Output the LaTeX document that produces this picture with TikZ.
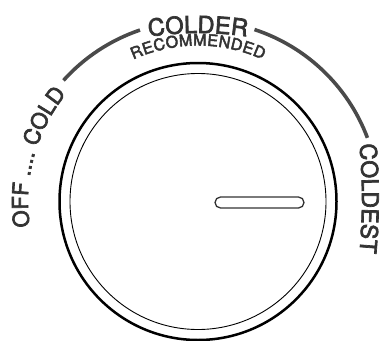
\documentclass[tikz,border=0pt]{standalone}
\usepackage{fontspec}
\setmainfont{TeX Gyre Heros}
\newfontfamily\dialfont[FakeBold=3]{TeX Gyre Heros}
\usetikzlibrary{decorations.text}
\definecolor{ink}{HTML}{333333}
\definecolor{arcgray}{HTML}{4A4A4A}
\begin{document}
\begin{tikzpicture}[x=1pt,y=1pt,
  dialtext/.style={decorate, decoration={text along path, text align={fit to path}, text color=ink}},
  scalearc/.style={draw=arcgray, line width=3.6pt}]
\useasboundingbox (0,0) rectangle (380,-340);
\coordinate (c) at (198,-201.5);
\coordinate (cc) at (198,-373);
\coordinate (ce) at (-238,-198.5);
% dial
\draw[line width=2.5pt] (c) circle[radius=138.5];
\draw[line width=0.9pt] (c) circle[radius=128];
\draw[line width=1.3pt, draw=ink, rounded corners=5.5pt] (215,-197) rectangle (304,-208);
% scale arc
\draw[scalearc] ([shift={(138:181)}]c) arc[start angle=138, end angle=108.7, radius=181];
\draw[scalearc] ([shift={(71.8:181)}]c) arc[start angle=71.8, end angle=20.6, radius=181];
% labels
\path[dialtext, decoration={text={|\dialfont\fontsize{23.5}{27}\selectfont|COLDER}}]
  ([shift={(98.3:340)}]cc) arc[start angle=98.3, end angle=81.7, radius=340];
\path[dialtext, decoration={text={|\dialfont\fontsize{16}{19}\selectfont|RECOMMENDED}}]
  ([shift={(114.5:156)}]c) arc[start angle=114.5, end angle=65.5, radius=156];
\path[dialtext, decoration={text={|\dialfont\fontsize{22}{26}\selectfont|OFF .... COLD}}]
  ([shift={(188.5:170)}]c) arc[start angle=188.5, end angle=141, radius=170];
\path[dialtext, decoration={text={|\dialfont\fontsize{23}{27}\selectfont|COLDEST}}]
  ([shift={(5.2:600)}]ce) arc[start angle=5.2, end angle=-5.2, radius=600];
\end{tikzpicture}
\end{document}
